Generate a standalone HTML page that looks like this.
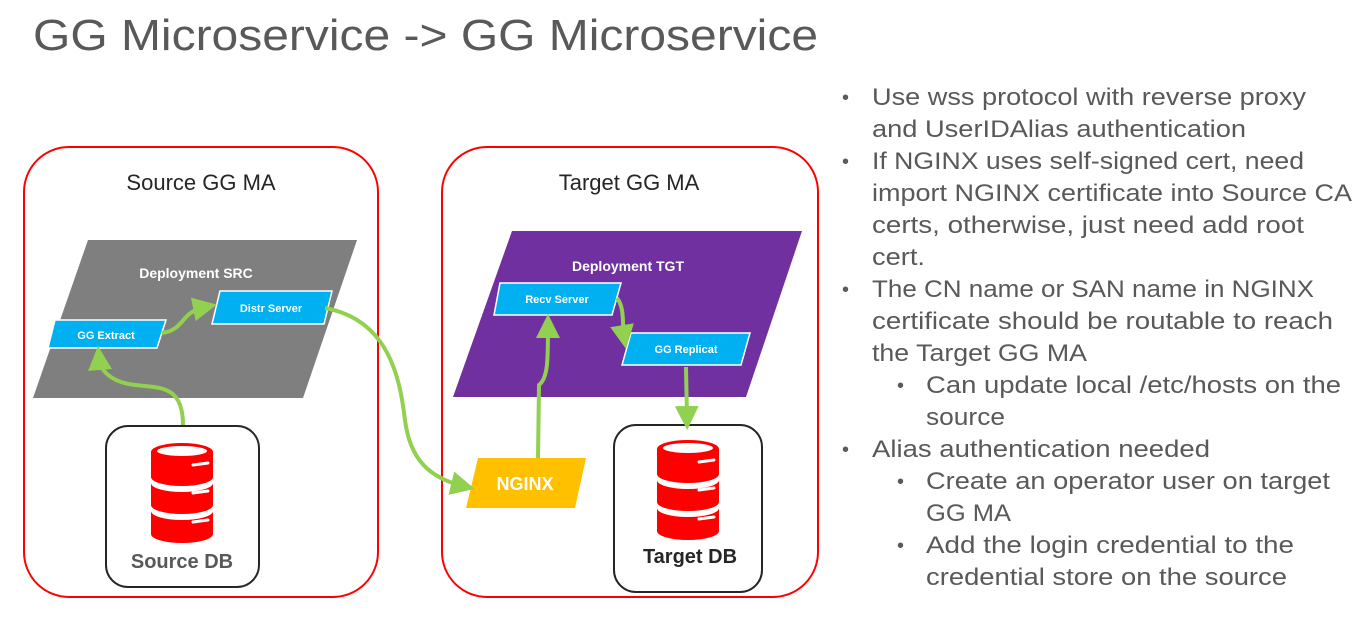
<!DOCTYPE html>
<html><head><meta charset="utf-8"><style>
html,body{margin:0;padding:0;background:#fff;}
svg{display:block;font-family:"Liberation Sans",sans-serif;}
</style></head><body>
<svg width="1365" height="624" viewBox="0 0 1365 624" xmlns="http://www.w3.org/2000/svg">
<defs>
<marker id="ah" markerWidth="6" markerHeight="6" refX="3" refY="3" orient="auto" markerUnits="strokeWidth">
<path d="M0,0 L6,3 L0,6 z" fill="#92d050"/></marker>
</defs>
<text x="33" y="50" font-size="44" fill="#595959" textLength="785" lengthAdjust="spacingAndGlyphs">GG Microservice -&gt; GG Microservice</text>

<rect x="24" y="147" width="354" height="450" rx="45" fill="none" stroke="#ff0000" stroke-width="2"/>
<rect x="442" y="147" width="376" height="450" rx="45" fill="none" stroke="#ff0000" stroke-width="2"/>
<text x="201" y="190" font-size="22" fill="#262626" text-anchor="middle">Source GG MA</text>
<text x="629" y="190" font-size="22" fill="#262626" text-anchor="middle">Target GG MA</text>

<polygon points="88,240 357,240 303,398 33,398" fill="#7f7f7f"/>
<text x="196" y="278" font-size="14" font-weight="bold" fill="#fff" text-anchor="middle">Deployment SRC</text>
<polygon points="55,320 166,320 157,348 48,348" fill="#00b0f0" stroke="#fff" stroke-width="1.5"/>
<text x="106" y="339" font-size="11" font-weight="bold" fill="#fff" text-anchor="middle">GG Extract</text>
<polygon points="220,291 332,291 324,324 212,324" fill="#00b0f0" stroke="#fff" stroke-width="1.5"/>
<text x="271" y="312" font-size="11" font-weight="bold" fill="#fff" text-anchor="middle">Distr Server</text>

<polygon points="512,231 802,231 746,397 453,397" fill="#7030a0"/>
<text x="628" y="271" font-size="14" font-weight="bold" fill="#fff" text-anchor="middle">Deployment TGT</text>
<polygon points="500,283 621,283 612,315 494,315" fill="#00b0f0" stroke="#fff" stroke-width="1.5"/>
<text x="557" y="303" font-size="11" font-weight="bold" fill="#fff" text-anchor="middle">Recv Server</text>
<polygon points="631,333 750,333 741,365 622,365" fill="#00b0f0" stroke="#fff" stroke-width="1.5"/>
<text x="686" y="353" font-size="11" font-weight="bold" fill="#fff" text-anchor="middle">GG Replicat</text>

<polygon points="478,458 586,458 575,508 466,508" fill="#ffc000"/>
<text x="525" y="490" font-size="18" font-weight="bold" fill="#fff" text-anchor="middle">NGINX</text>

<rect x="106" y="426" width="153" height="161" rx="22" fill="#fff" stroke="#262626" stroke-width="2"/>
<rect x="614" y="425" width="148" height="167" rx="22" fill="#fff" stroke="#262626" stroke-width="2"/>
<g id="db1" fill="#ff0000">
<ellipse cx="182" cy="452" rx="31" ry="9"/>
<path d="M151,452 v25 a31,9 0 0 0 62,0 v-25 z"/>
<path d="M151,483 v22 a31,9 0 0 0 62,0 v-22 a31,9 0 0 1 -62,0 z"/>
<path d="M151,511 v23 a31,9 0 0 0 62,0 v-23 a31,9 0 0 1 -62,0 z"/>
<ellipse cx="182" cy="451" rx="25" ry="5" fill="#fff"/>
<path d="M193,465 l15,-2" stroke="#fff" stroke-width="3" stroke-linecap="round"/>
<path d="M193,493 l15,-2" stroke="#fff" stroke-width="3" stroke-linecap="round"/>
<path d="M193,522 l15,-2" stroke="#fff" stroke-width="3" stroke-linecap="round"/>
</g>
<use href="#db1" x="506" y="-3"/>
<text x="182" y="568" font-size="20" font-weight="bold" fill="#595959" text-anchor="middle">Source DB</text>
<text x="690" y="563" font-size="20" font-weight="bold" fill="#262626" text-anchor="middle">Target DB</text>

<g fill="none" stroke="#92d050" stroke-width="4" marker-end="url(#ah)">
<path d="M183,425 C183,385 160,388 135,385 C110,382 100,370 99,358"/>
<path d="M162,333 C185,330 180,312 205,307"/>
<path d="M325,308 C390,320 400,380 405,420 C410,460 430,478 463,486"/>
<path d="M538,458 L539,385 C548,378 548,360 548,326"/>
<path d="M617,298 C625,308 622,325 624,337"/>
<path d="M686,367 L687,418"/>
</g>

<g font-size="24" fill="#595959">
<g font-size="20"><text x="842" y="104">•</text><text x="842" y="168">•</text><text x="842" y="296">•</text><text x="842" y="456">•</text>
<text x="897" y="392">•</text><text x="897" y="488">•</text><text x="897" y="552">•</text></g>
<text x="872" y="105" textLength="434" lengthAdjust="spacingAndGlyphs">Use wss protocol with reverse proxy</text>
<text x="872" y="137" textLength="374" lengthAdjust="spacingAndGlyphs">and UserIDAlias authentication</text>
<text x="872" y="169" textLength="432" lengthAdjust="spacingAndGlyphs">If NGINX uses self-signed cert, need</text>
<text x="872" y="201" textLength="480" lengthAdjust="spacingAndGlyphs">import NGINX certificate into Source CA</text>
<text x="872" y="233" textLength="432" lengthAdjust="spacingAndGlyphs">certs, otherwise, just need add root</text>
<text x="872" y="265" textLength="53" lengthAdjust="spacingAndGlyphs">cert.</text>
<text x="872" y="297" textLength="442" lengthAdjust="spacingAndGlyphs">The CN name or SAN name in NGINX</text>
<text x="872" y="329" textLength="461" lengthAdjust="spacingAndGlyphs">certificate should be routable to reach</text>
<text x="872" y="361" textLength="215" lengthAdjust="spacingAndGlyphs">the Target GG MA</text>
<text x="926" y="393" textLength="415" lengthAdjust="spacingAndGlyphs">Can update local /etc/hosts on the</text>
<text x="926" y="425" textLength="79" lengthAdjust="spacingAndGlyphs">source</text>
<text x="872" y="457" textLength="338" lengthAdjust="spacingAndGlyphs">Alias authentication needed</text>
<text x="926" y="489" textLength="404" lengthAdjust="spacingAndGlyphs">Create an operator user on target</text>
<text x="926" y="521" textLength="85" lengthAdjust="spacingAndGlyphs">GG MA</text>
<text x="926" y="553" textLength="368" lengthAdjust="spacingAndGlyphs">Add the login credential to the</text>
<text x="926" y="585" textLength="361" lengthAdjust="spacingAndGlyphs">credential store on the source</text>
</g>
</svg>
</body></html>
